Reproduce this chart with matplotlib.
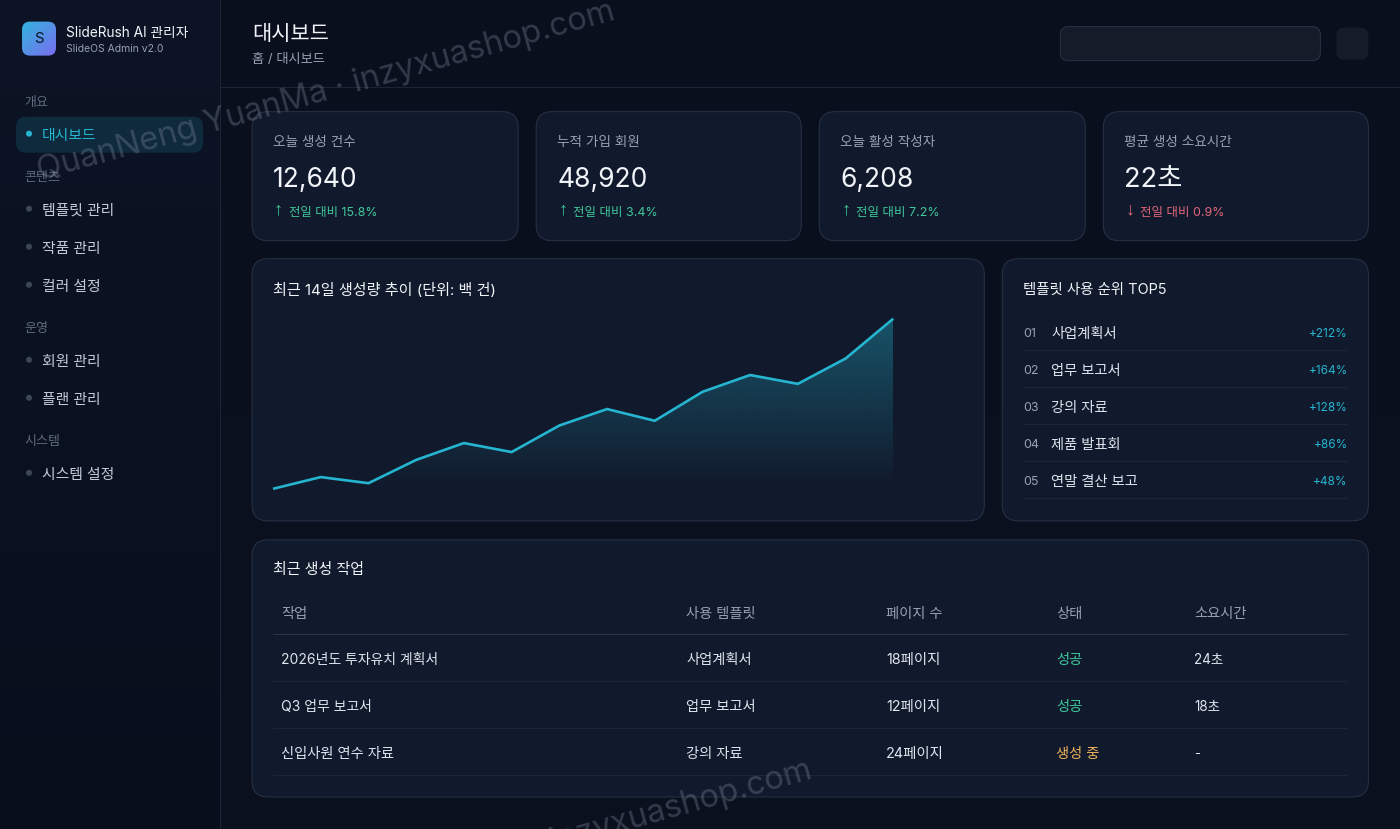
import numpy as np
import matplotlib
matplotlib.use("Agg")
import matplotlib.pyplot as plt
from matplotlib.patches import FancyBboxPatch, Circle
from matplotlib.colors import LinearSegmentedColormap, to_rgb

plt.rcParams['font.family'] = ['Inter', 'Noto Sans CJK KR', 'DejaVu Sans']

W, H = 1400, 829

# ---- data ----
nav_sections = ['개요', '콘텐츠', '운영', '시스템']
nav_items = ['대시보드', '템플릿 관리', '작품 관리', '컬러 설정', '회원 관리', '플랜 관리', '시스템 설정']
kpi_titles = ['오늘 생성 건수', '누적 가입 회원', '오늘 활성 작성자', '평균 생성 소요시간']
kpi_values = ['12,640', '48,920', '6,208', '22초']
kpi_deltas = ['전일 대비 15.8%', '전일 대비 3.4%', '전일 대비 7.2%', '전일 대비 0.9%']
kpi_up = [True, True, True, False]
trend_days = list(range(1, 15))
trend_values = [5.9, 12.8, 9.2, 22.9, 32.8, 27.5, 43.1, 52.8, 45.9, 62.9, 72.8, 67.6, 82.5, 105.9]
top_templates = ['사업계획서', '업무 보고서', '강의 자료', '제품 발표회', '연말 결산 보고']
top_growth = ['+212%', '+164%', '+128%', '+86%', '+48%']
table_head = ['작업', '사용 템플릿', '페이지 수', '상태', '소요시간']
table_jobs = ['2026년도 투자유치 계획서', 'Q3 업무 보고서', '신입사원 연수 자료']
table_tpl = ['사업계획서', '업무 보고서', '강의 자료']
table_pages = ['18페이지', '12페이지', '24페이지']
table_status = ['성공', '성공', '생성 중']
table_time = ['24초', '18초', '-']

# ---- colours ----
MAIN = '#0a0f1d'
CARD = '#111a2c'
BORDER = '#283246'
WHITE = '#f1f5f9'
TEXT = '#dfe5ee'
MUTED = '#97a1b1'
DIM = '#5f6a7c'
CYAN = '#25b5d0'
GREEN = '#3fc79a'
RED = '#e2657a'
AMBER = '#edb15b'

fig = plt.figure(figsize=((W + 0.4) / 100, (H + 0.4) / 100), dpi=100, facecolor=MAIN)
ax = fig.add_axes([0, 0, 1, 1])
ax.set_xlim(0, W)
ax.set_ylim(H, 0)
ax.axis('off')


def grad(extent, c0, c1, z=0):
    cm = LinearSegmentedColormap.from_list('g', [c0, c1])
    a = np.linspace(0, 1, 256)[:, None]
    ax.imshow(a, extent=extent, cmap=cm, aspect='auto', zorder=z)
    ax.set_xlim(0, W)
    ax.set_ylim(H, 0)


def t(x, y, s, px, color=TEXT, ha='left', weight='normal', z=5, **kw):
    # Hangul in the reference runs about 10% larger than Latin of the same size
    core = s.replace(' ', '')
    frac = sum('\uac00' <= c <= '\ud7a3' for c in core) / max(len(core), 1)
    return ax.text(x, y + 3, s, fontsize=px * (1 + 0.1 * frac) * 0.72, color=color, ha=ha,
                   va='center', fontweight=weight, zorder=z, **kw)


def box(x0, y0, x1, y1, r=16, fc=CARD, ec=BORDER, lw=0.72, z=2):
    p = FancyBboxPatch((x0 + r, y0 + r), x1 - x0 - 2 * r, y1 - y0 - 2 * r,
                       boxstyle=f'round,pad={r},rounding_size={r}',
                       fc=fc, ec=ec, lw=lw, zorder=z)
    ax.add_patch(p)
    return p


# backgrounds
grad((220, W, H, 0), '#0a0f1d', '#0b111f', 0)
grad((0, 220, H, 0), '#0c1425', '#080e1c', 1)
ax.plot([219.5, 219.5], [0, H], color='#1c2536', lw=0.72, zorder=1.5)
ax.plot([220, W], [87.5, 87.5], color='#1c2536', lw=0.72, zorder=1.5)

# brand
logo = box(22, 22, 56, 56, r=8, fc='none', ec='none', z=3)
cm_logo = LinearSegmentedColormap.from_list('l', ['#2fb5dc', '#7c6cf0'])
xx, yy = np.meshgrid(np.linspace(0, 1, 64), np.linspace(0, 1, 64))
im = ax.imshow((xx + yy) / 2, extent=(22, 56, 56, 22), cmap=cm_logo, aspect='auto', zorder=3)
im.set_clip_path(logo)
ax.set_xlim(0, W)
ax.set_ylim(H, 0)
t(39, 36, 'S', 15, '#0c1526', ha='center')
t(66, 29.5, 'SlideRush AI 관리자', 13.4, WHITE)
t(66, 45.5, 'SlideOS Admin v2.0', 10.4, MUTED)

# nav
sec_y = [100, 175, 326, 439]
for s, y in zip(nav_sections, sec_y):
    t(24, y, s, 11.8, DIM)
item_y = [133, 208, 246, 284, 359, 397, 472]
box(16, 117, 203, 153, r=10, fc='#0e2a3c', ec='none', z=2)
for i, (s, y) in enumerate(zip(nav_items, item_y)):
    active = i == 0
    ax.add_patch(Circle((29, y + 1), 3, fc=CYAN if active else '#3c4656', ec='none', zorder=4))
    t(42, y, s, 13.5, CYAN if active else '#c3cad5')

# header
t(252, 31, '대시보드', 19, WHITE)
t(252, 57, '홈 / 대시보드', 12.2, MUTED)
box(1060, 27, 1320, 61, r=8, fc='#151b29', ec='#2a3344')
box(1336, 28, 1368, 60, r=8, fc='#151b29', ec='none')

# KPI cards
kpi_x = [(252, 518), (536, 801), (819, 1085), (1103, 1368)]
for (x0, x1), a, b, c, up in zip(kpi_x, kpi_titles, kpi_values, kpi_deltas, kpi_up):
    box(x0, 112, x1, 241)
    col = GREEN if up else RED
    t(x0 + 21, 139, a, 12.4, MUTED)
    t(x0 + 21, 177, b, 26.4, WHITE)
    ax.text(x0 + 22, 209.5, '↑' if up else '↓', fontsize=13, color=col, va='center',
            family=['Liberation Sans', 'DejaVu Sans'], zorder=5)
    t(x0 + 37, 209.5, c, 11.9, col)

# trend card
box(252, 259, 984, 521)
t(273, 287, '최근 14일 생성량 추이 (단위: 백 건)', 14.1, WHITE)
cx = fig.add_axes([273 / W, 1 - 499 / H, 620 / W, 180 / H])
cx.patch.set_alpha(0)
cx.axis('off')
cx.set_zorder(3)
ymax = 180 / 1.7
poly = cx.fill_between(trend_days, trend_values, 0, color='none', lw=0)
rgba = np.zeros((256, 1, 4))
rgba[..., :3] = to_rgb(CYAN)
rgba[:, 0, 3] = np.clip(np.linspace(0.37, -0.03, 256), 0, 1)
img = cx.imshow(rgba, extent=(trend_days[0], trend_days[-1], 0, ymax), aspect='auto', zorder=1,
                origin='upper')
img.set_clip_path(poly.get_paths()[0], transform=cx.transData)
cx.set_xlim(trend_days[0], trend_days[-1])
cx.set_ylim(0, ymax)
cx.plot(trend_days, trend_values, color=CYAN, lw=1.9, zorder=2, clip_on=False,
        solid_joinstyle='miter', solid_capstyle='butt')

# top5 card
box(1002, 259, 1368, 521)
t(1023, 287, '템플릿 사용 순위 TOP5', 13.6, WHITE)
rank_y = [331, 368, 405, 442, 479]
for i, (n, g, y) in enumerate(zip(top_templates, top_growth, rank_y)):
    t(1023, y, f'{i + 1:02d}', 12.5, MUTED)
    t(1051, y, n, 13, TEXT)
    t(1347.5, y, g, 11.8, CYAN, ha='right')
    ax.plot([1023, 1347], [y + 19.5, y + 19.5], color='#1c2639', lw=0.72, zorder=3)

# table card
box(252, 540, 1368, 797)
t(273, 567, '최근 생성 작업', 13.6, WHITE)
col_x = [281, 686, 886, 1056, 1194]
for x, s in zip(col_x, table_head):
    t(x, 611, s, 13, MUTED)
ax.plot([273, 1347], [634.5, 634.5], color='#2a3446', lw=0.72, zorder=3)
row_y = [657, 704, 751]
status_col = {'성공': GREEN, '생성 중': AMBER}
for r, y in enumerate(row_y):
    t(col_x[0], y, table_jobs[r], 13, TEXT)
    t(col_x[1], y, table_tpl[r], 13, TEXT)
    t(col_x[2], y, table_pages[r], 13.6, TEXT)
    t(col_x[3], y, table_status[r], 13, status_col[table_status[r]])
    t(col_x[4], y, table_time[r], 13, TEXT)
    ax.plot([273, 1347], [y + 24.5, y + 24.5], color='#1c2639', lw=0.72, zorder=3)

# watermark
mark = 'QuanNeng YuanMa · inzyxuashop.com'
for mx, my in [(40, 180), (237, 939)]:
    fig.text(mx / W, 1 - my / H, mark, fontsize=23.5, color='#8a94a6', alpha=0.32,
             rotation=15.6, rotation_mode='anchor', ha='left', va='baseline',
             zorder=20)

fig.savefig('out.png', dpi=100, facecolor=MAIN)
